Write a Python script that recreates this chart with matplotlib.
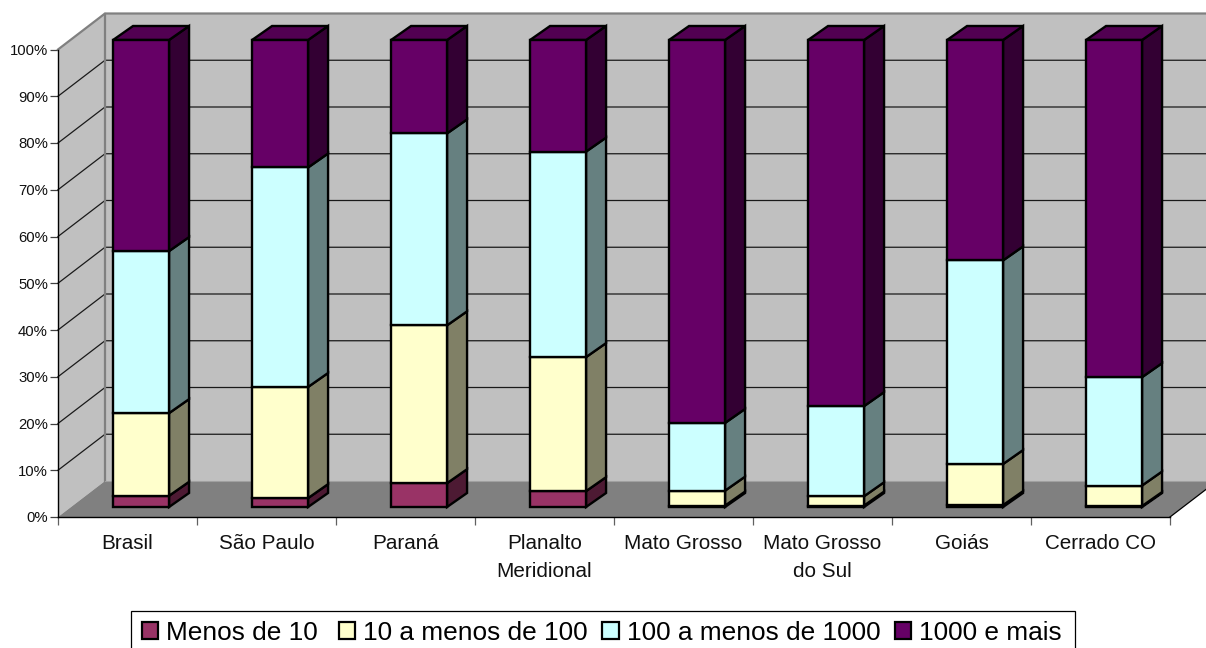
import matplotlib
matplotlib.use('Agg')
import matplotlib.pyplot as plt
from matplotlib.patches import Patch, Polygon, Rectangle

plt.rcParams['font.family'] = ['Liberation Sans', 'DejaVu Sans']

categories = ['Brasil', 'São Paulo', 'Paraná', 'Planalto\nMeridional', 'Mato Grosso',
              'Mato Grosso\ndo Sul', 'Goiás', 'Cerrado CO']
series_names = ['Menos de 10 ', '10 a menos de 100', '100 a menos de 1000', '1000 e mais']

menos_10 = [2.4, 1.9, 5.1, 3.4, 0.3, 0.3, 0.4, 0.2]
de_10_100 = [17.7, 23.8, 33.8, 28.7, 3.2, 2.0, 8.8, 4.4]
de_100_1000 = [34.7, 47.0, 41.1, 44.0, 14.5, 19.3, 43.6, 23.2]
mais_1000 = [45.2, 27.3, 20.0, 23.9, 82.0, 78.4, 47.2, 72.2]
series_values = [menos_10, de_10_100, de_100_1000, mais_1000]

front_colors = ['#993366', '#FFFFCC', '#CCFFFF', '#660066']
side_colors = ['#4D1A33', '#808066', '#668080', '#330033']
top_colors = ['#7A2952', '#CCCCA3', '#A3CCCC', '#520052']

# 3D look: depth of the box and of each bar, in axis units
BOX_DX = 47 / 139
BOX_DY = 36 / 4.675
BAR_DX = 20 / 139
BAR_DY = 14 / 4.675
BAR_LEFT = 0.396
BAR_W = 0.403
BAR_BASE = 2.14
BAR_SCALE = 467 / 467.5

fig = plt.figure(figsize=(12.06, 6.48), dpi=100)
ax = fig.add_axes([58 / 1206, 1 - 517 / 648, (1170 - 58) / 1206, (517 - 49.5) / 648])
ax.set_xlim(0, len(categories))
ax.set_ylim(0, 100)
ax.patch.set_visible(False)


def face(points, color, edge=None, lw=0.0, z=1):
    ax.add_patch(Polygon(points, closed=True, facecolor=color, edgecolor=edge or color,
                         linewidth=lw, joinstyle='miter', clip_on=False, zorder=z))


n = len(categories)

# walls and floor
face([(0, 0), (BOX_DX, BOX_DY), (BOX_DX, 100 + BOX_DY), (0, 100)], '#C0C0C0')
face([(BOX_DX, BOX_DY), (n + BOX_DX, BOX_DY), (n + BOX_DX, 100 + BOX_DY), (BOX_DX, 100 + BOX_DY)], '#C0C0C0')
face([(0, 0), (n, 0), (n + BOX_DX, BOX_DY), (BOX_DX, BOX_DY)], '#808080')

# gridlines run along the left wall then across the back wall
for v in range(10, 100, 10):
    ax.plot([0, BOX_DX, n + BOX_DX], [v, v + BOX_DY, v + BOX_DY], color='#1A1A1A', lw=0.9,
            clip_on=False, zorder=2)

# wall outlines
ax.plot([0, BOX_DX, n + BOX_DX], [100, 100 + BOX_DY, 100 + BOX_DY], color='#808080', lw=1.6,
        clip_on=False, zorder=2, solid_joinstyle='miter')
ax.plot([BOX_DX, BOX_DX], [BOX_DY, 100 + BOX_DY], color='#808080', lw=1.6, clip_on=False, zorder=2)
ax.plot([BOX_DX, n + BOX_DX], [BOX_DY, BOX_DY], color='#A0A0A0', lw=0.8, clip_on=False, zorder=2)
ax.plot([n, n + BOX_DX], [0, BOX_DY], color='black', lw=0.9, clip_on=False, zorder=2)

# stacked 3D bars
for i in range(n):
    x0 = i + BAR_LEFT
    x1 = x0 + BAR_W
    bottom = BAR_BASE
    for s, values in enumerate(series_values):
        top = bottom + values[i] * BAR_SCALE
        face([(x1, bottom), (x1 + BAR_DX, bottom + BAR_DY), (x1 + BAR_DX, top + BAR_DY), (x1, top)],
             side_colors[s], 'black', 1.7, 3)
        if s == len(series_values) - 1:
            face([(x0, top), (x1, top), (x1 + BAR_DX, top + BAR_DY), (x0 + BAR_DX, top + BAR_DY)],
                 top_colors[s], 'black', 1.7, 3)
        face([(x0, bottom), (x1, bottom), (x1, top), (x0, top)], front_colors[s], 'black', 1.7, 4)
        bottom = top

# axes, ticks and labels
for side in ['top', 'right']:
    ax.spines[side].set_visible(False)
for side in ['left', 'bottom']:
    ax.spines[side].set_linewidth(1.0)
    ax.spines[side].set_zorder(5)

ax.set_yticks(range(0, 101, 10))
ax.set_yticklabels([str(v) + '%' for v in range(0, 101, 10)], fontsize=10.7, color='#111111')
ax.tick_params(axis='y', length=5.8, width=0.9, color='#404040', pad=1.5)
ax.set_xticks(range(n + 1))
ax.set_xticklabels([])
ax.tick_params(axis='x', which='major', length=5.8, width=0.9, color='#606060')
ax.set_xticks([i + 0.5 for i in range(n)], minor=True)
ax.set_xticklabels(categories, minor=True, fontsize=14.9, color='#111111', linespacing=1.6)
ax.tick_params(axis='x', which='minor', length=0, pad=12)

handles = [Patch(facecolor=c, edgecolor='black', linewidth=1.6) for c in front_colors]
ax.legend(handles, series_names, ncol=4, loc='center', bbox_to_anchor=(601.5 / 1206, 1 - 633 / 648),
          bbox_transform=fig.transFigure, frameon=False, fontsize=18.9, handlelength=0.62,
          handleheight=0.62, handletextpad=0.3, columnspacing=0.55, borderpad=0.25, borderaxespad=0)

# legend box runs off the bottom of the figure
fig.add_artist(Rectangle((131 / 1206, -0.02), (1075 - 131) / 1206, 1 - 611 / 648 + 0.02, fill=False,
                         edgecolor='black', linewidth=0.9, transform=fig.transFigure))

fig.savefig('out.png', dpi=100, facecolor='white')
